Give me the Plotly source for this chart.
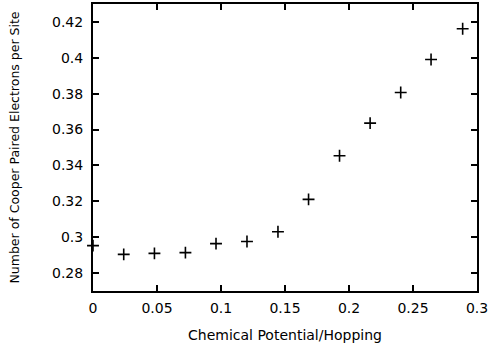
import plotly.graph_objects as go

mu = [0.0, 0.024, 0.048, 0.0722, 0.0961, 0.1203, 0.1445, 0.1684, 0.1926, 0.2165, 0.2404, 0.2641, 0.2888]
n_pairs = [0.2953, 0.2904, 0.2910, 0.2914, 0.2964, 0.2976, 0.3030, 0.3211, 0.3454, 0.3636, 0.3807, 0.3991, 0.4162]

x_ticks = [0, 0.05, 0.1, 0.15, 0.2, 0.25, 0.3]
x_labels = ["0", "0.05", "0.1", "0.15", "0.2", "0.25", "0.3"]
y_ticks = [0.28, 0.3, 0.32, 0.34, 0.36, 0.38, 0.4, 0.42]
y_labels = ["0.28", "0.3", "0.32", "0.34", "0.36", "0.38", "0.4", "0.42"]

fam = "DejaVu Sans, Liberation Sans, sans-serif"
tick_font = dict(family=fam, size=14, color="black")

fig = go.Figure(go.Scatter(
    x=mu, y=n_pairs, mode="markers",
    marker=dict(symbol="cross-thin", size=8.5, line=dict(color="black", width=1.6)),
    cliponaxis=False, showlegend=False,
))

axis_common = dict(
    showline=True, linecolor="black", linewidth=2, mirror="ticks",
    ticks="inside", ticklen=6, tickwidth=2, tickcolor="black",
    showgrid=False, zeroline=False, tickfont=tick_font, automargin=False,
)
fig.update_xaxes(range=[0, 0.3], tickvals=x_ticks, ticktext=x_labels, ticklabelstandoff=3,
                 title=dict(text="Chemical Potential/Hopping",
                            font=dict(family=fam, size=14, color="black"), standoff=15),
                 **axis_common)
fig.update_yaxes(range=[0.27, 0.43], tickvals=y_ticks, ticktext=y_labels, ticklabelstandoff=5,
                 title=dict(text="Number of Cooper Paired Electrons per Site",
                            font=dict(family=fam, size=12.5, color="black"), standoff=30),
                 **axis_common)
fig.update_layout(
    width=492, height=349,
    margin=dict(l=93, r=15, t=4, b=58),
    paper_bgcolor="white", plot_bgcolor="white",
)
fig.write_html("out.html", config={"displayModeBar": False},
               post_script="document.body.style.margin='0';")
